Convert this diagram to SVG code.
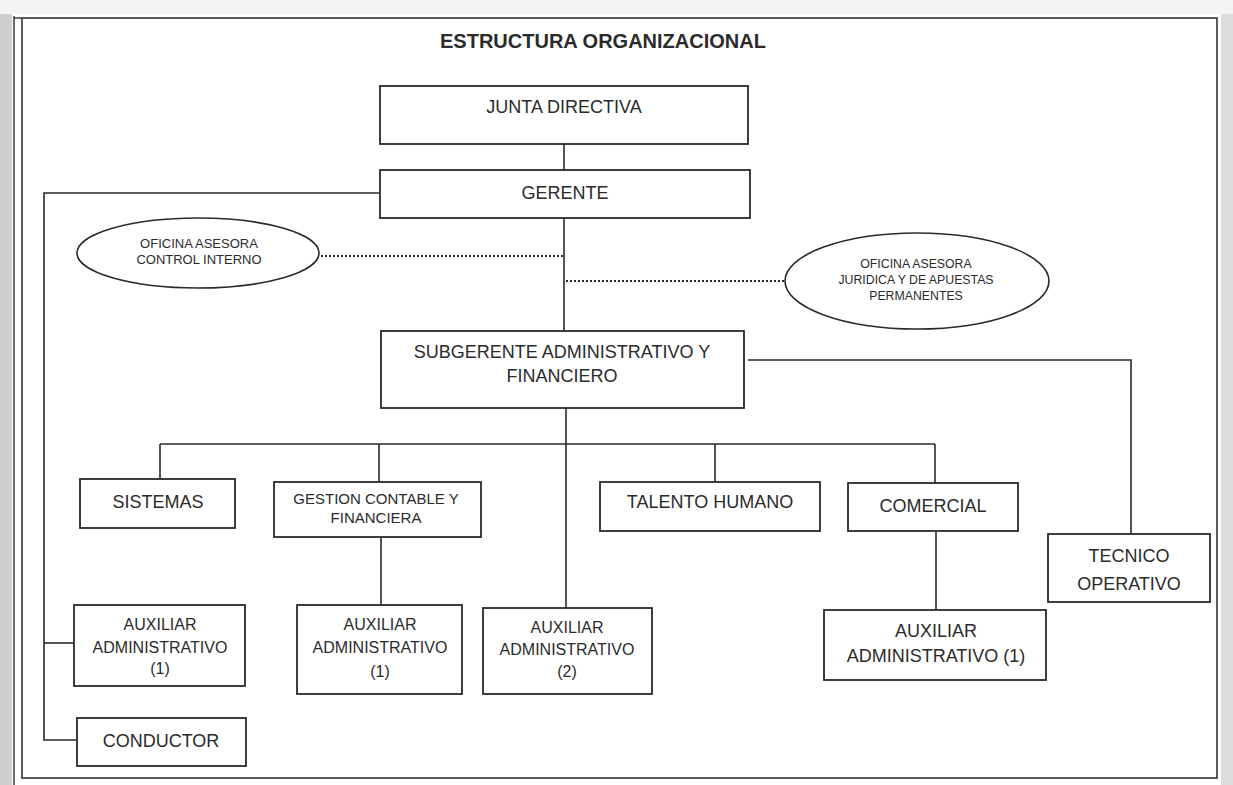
<svg xmlns="http://www.w3.org/2000/svg" width="1233" height="785" viewBox="0 0 1233 785">
<style>
.box{fill:#fff;stroke:#2a2a2a;stroke-width:1.8}
.ell{fill:#fff;stroke:#2a2a2a;stroke-width:1.6}
.ln{fill:none;stroke:#2a2a2a;stroke-width:1.6}
.dot{fill:none;stroke:#2a2a2a;stroke-width:2.2;stroke-dasharray:2 2}
text{font-family:"Liberation Sans",Arial,sans-serif;fill:#2b2b2b;text-anchor:middle}
.t18{font-size:18px}
.t16{font-size:16px}
.t15{font-size:15px}
.t12{font-size:12.3px}
.t13{font-size:13px}
.title{font-size:20px;font-weight:bold}
</style>
<rect x="0" y="0" width="1233" height="785" fill="#fff"/>
<rect x="0" y="0" width="12" height="785" fill="#cfcfcf"/>
<rect x="1221" y="0" width="12" height="785" fill="#dcdcdc"/>
<rect x="0" y="0" width="1233" height="14" fill="#f4f4f4"/>
<rect x="22" y="18" width="1195" height="760" fill="#fff" stroke="#333" stroke-width="1.6"/>
<line x1="14" y1="16" x2="14" y2="785" stroke="#444" stroke-width="1.6"/>
<line x1="14" y1="18" x2="22" y2="18" stroke="#444" stroke-width="1.6"/>
<text class="title" x="603" y="48">ESTRUCTURA ORGANIZACIONAL</text>

<g id="connectors">
<line class="ln" x1="564" y1="144" x2="564" y2="170"/>
<line class="ln" x1="564" y1="218" x2="564" y2="331"/>
<polyline class="ln" points="380,193 44,193 44,740 77,740"/>
<line class="ln" x1="44" y1="643" x2="74" y2="643"/>
<line class="dot" x1="321" y1="256" x2="563" y2="256"/>
<line class="dot" x1="566" y1="281" x2="786" y2="281"/>
<polyline class="ln" points="748,360 1131,360 1131,534"/>
<line class="ln" x1="566" y1="408" x2="566" y2="608"/>
<line class="ln" x1="160" y1="444" x2="935" y2="444"/>
<line class="ln" x1="160" y1="444" x2="160" y2="479"/>
<line class="ln" x1="379" y1="444" x2="379" y2="482"/>
<line class="ln" x1="715" y1="444" x2="715" y2="482"/>
<line class="ln" x1="935" y1="444" x2="935" y2="483"/>
<line class="ln" x1="381" y1="537" x2="381" y2="605"/>
<line class="ln" x1="936" y1="531" x2="936" y2="610"/>
</g>

<g id="junta">
<rect class="box" x="380" y="86" width="368" height="58"/>
<text class="t18" x="564" y="113">JUNTA DIRECTIVA</text>
</g>
<g id="gerente">
<rect class="box" x="380" y="170" width="370" height="48"/>
<text class="t18" x="565" y="199">GERENTE</text>
</g>
<g id="control-interno">
<ellipse class="ell" cx="198" cy="253" rx="121" ry="35"/>
<text class="t13" x="199" y="248">OFICINA ASESORA</text>
<text class="t13" x="199" y="264">CONTROL INTERNO</text>
</g>
<g id="juridica">
<ellipse class="ell" cx="917" cy="281" rx="132" ry="48"/>
<text class="t12" x="916" y="268">OFICINA ASESORA</text>
<text class="t12" x="916" y="284">JURIDICA Y DE APUESTAS</text>
<text class="t12" x="916" y="300">PERMANENTES</text>
</g>
<g id="subgerente">
<rect class="box" x="381" y="331" width="363" height="77"/>
<text class="t18" x="562" y="358">SUBGERENTE ADMINISTRATIVO Y</text>
<text class="t18" x="562" y="382">FINANCIERO</text>
</g>
<g id="sistemas">
<rect class="box" x="80" y="479" width="155" height="49"/>
<text class="t18" x="158" y="508">SISTEMAS</text>
</g>
<g id="gestion">
<rect class="box" x="274" y="482" width="207" height="55"/>
<text class="t15" x="376" y="504">GESTION CONTABLE Y</text>
<text class="t15" x="376" y="523">FINANCIERA</text>
</g>
<g id="talento">
<rect class="box" x="600" y="482" width="220" height="49"/>
<text class="t18" x="710" y="508">TALENTO HUMANO</text>
</g>
<g id="comercial">
<rect class="box" x="848" y="483" width="170" height="48"/>
<text class="t18" x="933" y="512">COMERCIAL</text>
</g>
<g id="tecnico">
<rect class="box" x="1048" y="534" width="162" height="68"/>
<text class="t18" x="1129" y="562">TECNICO</text>
<text class="t18" x="1129" y="590">OPERATIVO</text>
</g>
<g id="aux-left">
<rect class="box" x="74" y="605" width="171" height="81"/>
<text class="t16" x="160" y="630">AUXILIAR</text>
<text class="t16" x="160" y="653">ADMINISTRATIVO</text>
<text class="t16" x="160" y="674">(1)</text>
</g>
<g id="conductor">
<rect class="box" x="77" y="718" width="169" height="48"/>
<text class="t18" x="161" y="747">CONDUCTOR</text>
</g>
<g id="aux-gestion">
<rect class="box" x="297" y="605" width="165" height="89"/>
<text class="t16" x="380" y="630">AUXILIAR</text>
<text class="t16" x="380" y="653">ADMINISTRATIVO</text>
<text class="t16" x="380" y="677">(1)</text>
</g>
<g id="aux-2">
<rect class="box" x="483" y="608" width="169" height="86"/>
<text class="t16" x="567" y="633">AUXILIAR</text>
<text class="t16" x="567" y="655">ADMINISTRATIVO</text>
<text class="t16" x="567" y="677">(2)</text>
</g>
<g id="aux-comercial">
<rect class="box" x="824" y="610" width="222" height="70"/>
<text class="t18" x="936" y="637">AUXILIAR</text>
<text class="t18" x="936" y="662">ADMINISTRATIVO (1)</text>
</g>
</svg>
